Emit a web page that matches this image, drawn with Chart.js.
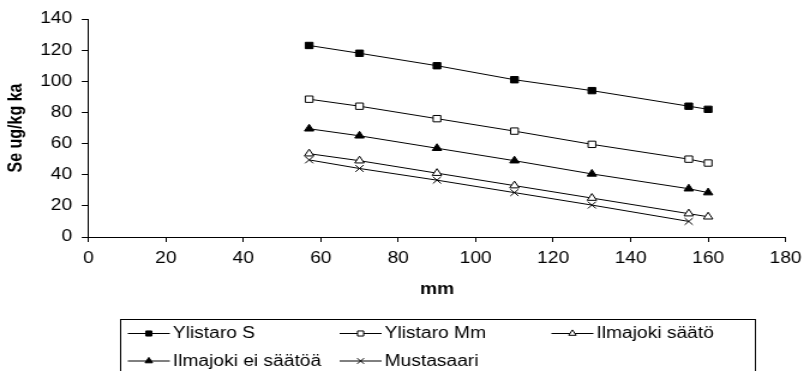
<!DOCTYPE html>
<html>
<head>
<meta charset="utf-8">
<script src="https://cdn.jsdelivr.net/npm/chart.js@4/dist/chart.umd.min.js"></script>
<style>
  html, body { margin: 0; padding: 0; background: #fff; overflow: hidden; }
  /* the figure is laid out narrow and widened, like the original graphic */
  #wrap { width: 675px; height: 371px; transform: scaleX(1.2); transform-origin: 0 0; }
</style>
</head>
<body>
<div id="wrap"><canvas id="c"></canvas></div>
<script>
// Sampling depth, mm
const depthMm = [57, 70, 90, 110, 130, 155, 160];

// Se content, ug/kg ka
const ylistaroS        = [123, 118, 110, 101, 94, 84, 82];
const ylistaroMm       = [88.5, 84, 76, 68, 59.5, 50, 47.5];
const ilmajokiSaato    = [53.5, 49, 41, 33, 25, 15, 13];
const ilmajokiEiSaatoa = [69.5, 65, 57, 49, 40.5, 31, 28.5];
const mustasaari       = [49.5, 44, 36.5, 28.5, 20.5, 10];

const seriesNames = ['Ylistaro S', 'Ylistaro Mm', 'Ilmajoki säätö', 'Ilmajoki ei säätöä', 'Mustasaari'];

const xTicks = [0, 20, 40, 60, 80, 100, 120, 140, 160, 180];
const yTicks = [0, 20, 40, 60, 80, 100, 120, 140];

const FONT = "'Liberation Sans', Arial, Helvetica, sans-serif";

function pairs(xs, ys) {
  return ys.map((v, i) => ({ x: xs[i], y: v }));
}

const markerStyles = [
  { pointStyle: 'rect',     fill: '#000', radius: 4.5 },
  { pointStyle: 'rect',     fill: '#fff', radius: 4.5 },
  { pointStyle: 'triangle', fill: '#fff', radius: 4.5 },
  { pointStyle: 'triangle', fill: '#000', radius: 4.5 },
  { pointStyle: 'crossRot', fill: '#000', radius: 4.8 }
];

const seriesValues = [ylistaroS, ylistaroMm, ilmajokiSaato, ilmajokiEiSaatoa, mustasaari];

const datasets = seriesValues.map((vals, i) => ({
  label: seriesNames[i],
  data: pairs(depthMm, vals),
  borderColor: '#000',
  borderWidth: 1,
  tension: 0,
  pointStyle: markerStyles[i].pointStyle,
  pointRadius: markerStyles[i].radius,
  pointHoverRadius: markerStyles[i].radius,
  pointBackgroundColor: markerStyles[i].fill,
  pointBorderColor: '#000',
  pointBorderWidth: 1,
  fill: false
}));

// Boxed legend below the plot: line sample with marker, then the name
const boxLegend = {
  id: 'boxLegend',
  afterDraw(chart) {
    const ctx = chart.ctx;
    const box = { left: 100.5, top: 319.5, width: 529, height: 90 };
    const colStart = 106.5, colWidth = 176.5, sample = 35;
    const rows = [333.5, 361];
    ctx.save();
    ctx.strokeStyle = '#000';
    ctx.lineWidth = 1;
    ctx.strokeRect(box.left, box.top, box.width, box.height);
    ctx.font = '16px ' + FONT;
    ctx.fillStyle = '#000';
    ctx.textBaseline = 'middle';
    chart.data.datasets.forEach((ds, i) => {
      const col = i % 3, row = Math.floor(i / 3);
      const x0 = colStart + col * colWidth;
      const y = rows[row];
      ctx.beginPath();
      ctx.moveTo(x0, y);
      ctx.lineTo(x0 + sample, y);
      ctx.strokeStyle = '#000';
      ctx.lineWidth = 1;
      ctx.stroke();
      ctx.fillStyle = ds.pointBackgroundColor;
      ctx.strokeStyle = '#000';
      Chart.helpers.drawPoint(ctx, {
        pointStyle: ds.pointStyle,
        radius: ds.pointStyle === 'crossRot' ? 4 : 3.6,
        rotation: 0,
        borderWidth: 1
      }, x0 + sample / 2, y);
      ctx.fillStyle = '#000';
      ctx.textAlign = 'left';
      ctx.fillText(ds.label, x0 + sample + 2.5, y + 0.5);
    });
    ctx.restore();
  }
};

new Chart(document.getElementById('c'), {
  type: 'line',
  data: { datasets },
  plugins: [boxLegend],
  options: {
    responsive: true,
    maintainAspectRatio: false,
    animation: false,
    events: [],
    layout: { padding: { top: 19, right: 15, bottom: 64, left: 0 } },
    plugins: { legend: { display: false }, tooltip: { enabled: false } },
    scales: {
      x: {
        type: 'linear',
        min: 0, max: 180,
        afterBuildTicks(scale) { scale.ticks = xTicks.map(v => ({ value: v })); },
        ticks: { color: '#000', font: { family: FONT, size: 16 }, padding: 7, maxRotation: 0, autoSkip: false },
        grid: { drawOnChartArea: false, drawTicks: true, tickLength: 5, color: '#000', lineWidth: 1 },
        border: { color: '#000', width: 1 },
        title: { display: true, text: 'mm', color: '#000', font: { family: FONT, size: 16, weight: 'bold' }, padding: { top: 0, bottom: 7.4 } },
        afterFit(scale) { scale.height = 70; }
      },
      y: {
        min: 0, max: 140,
        afterBuildTicks(scale) { scale.ticks = yTicks.map(v => ({ value: v })); },
        ticks: { color: '#000', font: { family: FONT, size: 16 }, padding: 8, autoSkip: false },
        grid: { drawOnChartArea: false, drawTicks: true, tickLength: 5.5, color: '#000', lineWidth: 1 },
        border: { color: '#000', width: 1 },
        title: { display: true, text: 'Se ug/kg ka', color: '#000', font: { family: FONT, size: 16, weight: 'bold' }, padding: { top: 4, bottom: 0 } },
        afterFit(scale) { scale.width = 73.6; }
      }
    }
  }
});
</script>
</body>
</html>
